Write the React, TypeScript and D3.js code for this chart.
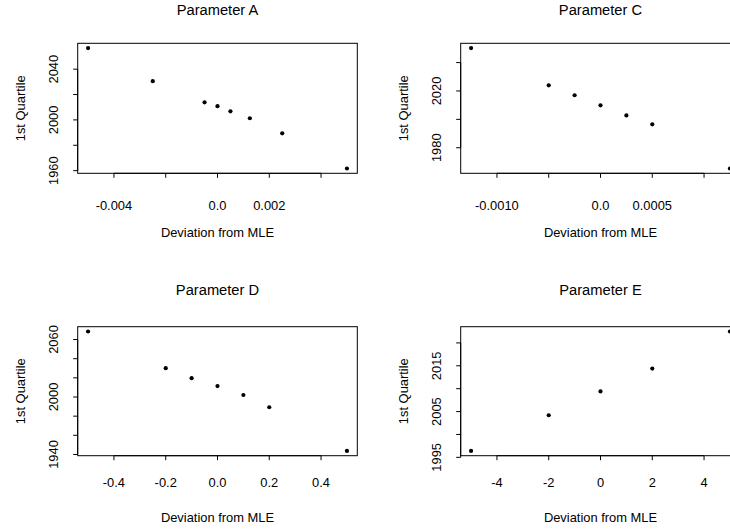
import React from "react";
import * as d3 from "d3";

// ---- Data ----
const titles = ["Parameter A", "Parameter C", "Parameter D", "Parameter E"];
const xLabel = "Deviation from MLE";
const yLabel = "1st Quartile";

const aX = [-0.005, -0.0025, -0.0005, 0, 0.0005, 0.00125, 0.0025, 0.005];
const aY = [2056.6, 2030.5, 2013.9, 2010.8, 2006.8, 2001.3, 1989.4, 1961.7];
const cX = [-0.00125, -0.0005, -0.00025, 0, 0.00025, 0.0005, 0.00125];
const cY = [2050.2, 2024.0, 2017.0, 2009.9, 2002.8, 1996.5, 1965.4];
const dX = [-0.5, -0.2, -0.1, 0, 0.1, 0.2, 0.5];
const dY = [2068.4, 2030.1, 2019.7, 2011.4, 2002.1, 1989.3, 1943.7];
const eX = [-5, -2, 0, 2, 5];
const eY = [1996.4, 2004.2, 2009.4, 2014.4, 2022.5];

const aXTicks = [-0.004, -0.002, 0, 0.002, 0.004];
const aXTickLabels = ["-0.004", "", "0.0", "0.002", ""];
const aYTicks = [1960, 1980, 2000, 2020, 2040];
const aYTickLabels = ["1960", "", "2000", "", "2040"];
const cXTicks = [-0.001, -0.0005, 0, 0.0005, 0.001];
const cXTickLabels = ["-0.0010", "", "0.0", "0.0005", ""];
const cYTicks = [1980, 2000, 2020, 2040];
const cYTickLabels = ["1980", "", "2020", ""];
const dXTicks = [-0.4, -0.2, 0, 0.2, 0.4];
const dXTickLabels = ["-0.4", "-0.2", "0.0", "0.2", "0.4"];
const dYTicks = [1940, 1960, 1980, 2000, 2020, 2040, 2060];
const dYTickLabels = ["1940", "", "", "2000", "", "", "2060"];
const eXTicks = [-4, -2, 0, 2, 4];
const eXTickLabels = ["-4", "-2", "0", "2", "4"];
const eYTicks = [1995, 2000, 2005, 2010, 2015, 2020];
const eYTickLabels = ["1995", "", "2005", "", "2015", ""];

const panels = [
  { title: titles[0], xs: aX, ys: aY, xt: aXTicks, xl: aXTickLabels, yt: aYTicks, yl: aYTickLabels, row: 0, col: 0 },
  { title: titles[1], xs: cX, ys: cY, xt: cXTicks, xl: cXTickLabels, yt: cYTicks, yl: cYTickLabels, row: 0, col: 1 },
  { title: titles[2], xs: dX, ys: dY, xt: dXTicks, xl: dXTickLabels, yt: dYTicks, yl: dYTickLabels, row: 1, col: 0 },
  { title: titles[3], xs: eX, ys: eY, xt: eXTicks, xl: eXTickLabels, yt: eYTicks, yl: eYTickLabels, row: 1, col: 1 },
];

// ---- Layout ----
const W = 730;
const H = 529;
const BOX_W = 279.6;
const COL_LEFT = [77.7, 460.7];
const ROWS = [
  { top: 43.3, height: 130, titleBase: 15.3, tickBase: 209.5, labelBase: 236.5 },
  { top: 326.7, height: 129, titleBase: 295.3, tickBase: 486.5, labelBase: 521.5 },
];
const FONT = "'Liberation Sans', Arial, Helvetica, sans-serif";
const TICK = 4.5;

function padded(vals: number[]): [number, number] {
  const [lo, hi] = d3.extent(vals) as [number, number];
  const r = hi - lo;
  return [lo - 0.04 * r, hi + 0.04 * r];
}

function Panel({ p }: { p: (typeof panels)[number] }) {
  const left = COL_LEFT[p.col];
  const row = ROWS[p.row];
  const top = row.top;
  const bottom = top + row.height;
  const right = left + BOX_W;
  const x = d3.scaleLinear().domain(padded(p.xs)).range([left, right]);
  const y = d3.scaleLinear().domain(padded(p.ys)).range([bottom, top]);
  const cx = (left + right) / 2;
  const cy = (top + bottom) / 2;
  const yTickBase = left - 20.2;
  const yLabBase = left - 52.7;
  return (
    <g>
      <text x={cx} y={row.titleBase} textAnchor="middle" fontSize={14.7} fill="#000">
        {p.title}
      </text>
      <rect x={left} y={top} width={BOX_W} height={row.height} fill="none" stroke="#000" strokeWidth={1} />
      {/* x axis */}
      <line x1={x(p.xt[0])} x2={x(p.xt[p.xt.length - 1])} y1={bottom} y2={bottom} stroke="#000" />
      {p.xt.map((t, i) => (
        <g key={"xt" + i}>
          <line x1={x(t)} x2={x(t)} y1={bottom} y2={bottom + TICK} stroke="#000" />
          {p.xl[i] && (
            <text x={x(t)} y={row.tickBase} textAnchor="middle" fontSize={12.9} fill="#000">
              {p.xl[i]}
            </text>
          )}
        </g>
      ))}
      {/* y axis */}
      <line x1={left} x2={left} y1={y(p.yt[0])} y2={y(p.yt[p.yt.length - 1])} stroke="#000" />
      {p.yt.map((t, i) => (
        <g key={"yt" + i}>
          <line x1={left - TICK} x2={left} y1={y(t)} y2={y(t)} stroke="#000" />
          {p.yl[i] && (
            <text
              transform={`translate(${yTickBase},${y(t)}) rotate(-90)`}
              textAnchor="middle"
              fontSize={12.9}
              fill="#000"
            >
              {p.yl[i]}
            </text>
          )}
        </g>
      ))}
      <text x={cx} y={row.labelBase} textAnchor="middle" fontSize={12.9} fill="#000">
        {xLabel}
      </text>
      <text transform={`translate(${yLabBase},${cy}) rotate(-90)`} textAnchor="middle" fontSize={12.9} fill="#000">
        {yLabel}
      </text>
      {p.xs.map((v, i) => (
        <circle key={"pt" + i} cx={x(v)} cy={y(p.ys[i])} r={2.1} fill="#000" />
      ))}
    </g>
  );
}

export default function App() {
  return (
    <svg
      width={W}
      height={H}
      style={{ position: "absolute", left: 0, top: 0, background: "#fff" }}
      fontFamily={FONT}
    >
      <rect x={0} y={0} width={W} height={H} fill="#fff" />
      {panels.map((p, i) => (
        <Panel key={i} p={p} />
      ))}
    </svg>
  );
}
